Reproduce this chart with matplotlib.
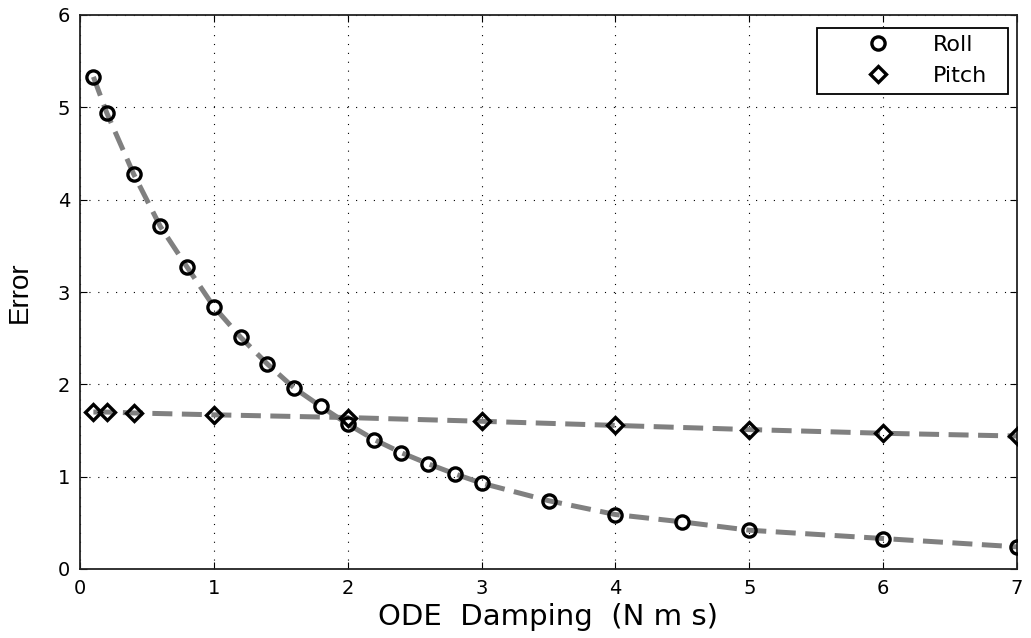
import matplotlib
matplotlib.use("Agg")
import matplotlib.pyplot as plt
from matplotlib.patches import Rectangle

# damping values (N m s) and the resulting errors
roll_x = [0.1, 0.2, 0.4, 0.6, 0.8, 1.0, 1.2, 1.4, 1.6, 1.8, 2.0, 2.2, 2.4, 2.6,
          2.8, 3.0, 3.5, 4.0, 4.5, 5.0, 6.0, 7.0]
roll_err = [5.33, 4.94, 4.28, 3.71, 3.27, 2.84, 2.51, 2.22, 1.96, 1.76, 1.57,
            1.40, 1.26, 1.14, 1.03, 0.93, 0.74, 0.59, 0.51, 0.42, 0.33, 0.24]

pitch_x = [0.1, 0.2, 0.4, 1.0, 2.0, 3.0, 4.0, 5.0, 6.0, 7.0]
pitch_err = [1.70, 1.70, 1.69, 1.67, 1.64, 1.60, 1.555, 1.51, 1.47, 1.44]

plt.rcParams['font.family'] = ['DejaVu Sans']

W, H = 1031, 638
fig = plt.figure(figsize=(W / 100, H / 100), dpi=100)
ax = fig.add_axes([80/W, 1 - 569/H, (1017 - 80)/W, (569 - 15)/H])

gray = '#808080'
dash = (0, (4.0, 1.9))
for x, y in [(roll_x, roll_err), (pitch_x, pitch_err)]:
    ax.plot(x, y, color=gray, lw=3.6, linestyle=dash, zorder=2)

ax.plot(roll_x, roll_err, linestyle='none', marker='o', ms=9.5, mfc='none',
        mec='black', mew=2.4, zorder=3, label='Roll')
ax.plot(pitch_x, pitch_err, linestyle='none', marker='D', ms=8.5, mfc='none',
        mec='black', mew=2.4, zorder=3, label='Pitch')

ax.set_xlim(0, 7)
ax.set_ylim(0, 6)
ax.set_xticks(range(0, 8))
ax.set_yticks(range(0, 7))
ax.grid(True, color='black', linestyle=(0, (1, 7)), lw=0.8)
ax.tick_params(direction='in', length=5, labelsize=14, top=True, right=True,
               pad=7)
for s in ax.spines.values():
    s.set_linewidth(1.3)
    s.set_color('#222222')

ax.set_xlabel('ODE  Damping  (N m s)', fontsize=21, labelpad=4)
ax.set_ylabel('Error', fontsize=20,
              family=['Liberation Sans Narrow', 'Liberation Sans'])
ax.yaxis.set_label_coords((33 - 80) / (1017 - 80), 0.5)

# legend box drawn by hand, entries placed inside it
ax.add_patch(Rectangle((817/W, 1 - 94/H), (1008 - 817)/W, (94 - 28)/H,
                       transform=fig.transFigure, facecolor='white',
                       edgecolor='black', lw=1.3, zorder=4, clip_on=False))
leg = ax.legend(loc='upper left', bbox_to_anchor=(856/W, 1 - 35/H),
                bbox_transform=fig.transFigure, fontsize=16, frameon=False,
                borderpad=0, borderaxespad=0, handlelength=2,
                handletextpad=1.45, labelspacing=0.5)
leg.set_zorder(5)

fig.savefig('out.png', dpi=100)
